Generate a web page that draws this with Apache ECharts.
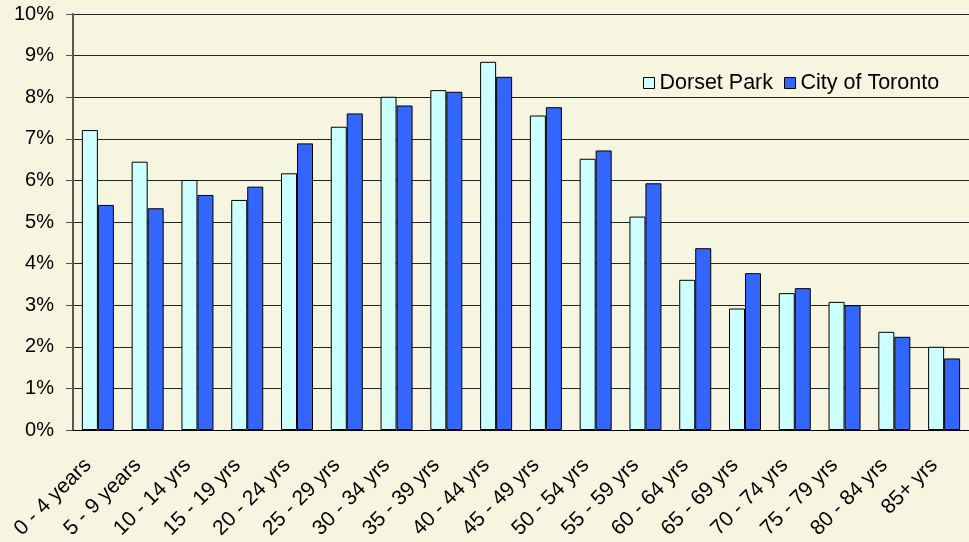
<!DOCTYPE html>
<html>
<head>
<meta charset="utf-8">
<script src="https://cdn.jsdelivr.net/npm/echarts@6/dist/echarts.min.js"></script>
<style>
  html, body { margin: 0; padding: 0; background: #F6F5DF; }
  #chart { width: 969px; height: 542px; }
</style>
</head>
<body>
<div id="chart"></div>
<script>
var ageGroups = ['0 - 4 years', '5 - 9 years', '10 - 14 yrs', '15 - 19 yrs', '20 - 24 yrs',
    '25 - 29 yrs', '30 - 34 yrs', '35 - 39 yrs', '40 - 44 yrs', '45 - 49 yrs', '50 - 54 yrs',
    '55 - 59 yrs', '60 - 64 yrs', '65 - 69 yrs', '70 - 74 yrs', '75 - 79 yrs', '80 - 84 yrs', '85+ yrs'];
var dorsetPark = [7.21, 6.45, 6.01, 5.53, 6.17, 7.29, 8.01, 8.17, 8.85, 7.56, 6.52, 5.13, 3.61, 2.92, 3.29, 3.08, 2.36, 2.00];
var cityToronto = [5.41, 5.33, 5.65, 5.85, 6.89, 7.61, 7.80, 8.13, 8.49, 7.76, 6.72, 5.93, 4.37, 3.77, 3.41, 3.00, 2.24, 1.72];
var pctTicks = [0, 10, 1]; // min, max, step

var chart = echarts.init(document.getElementById('chart'));

var option = {
    backgroundColor: '#F6F5DF',
    animation: false,
    textStyle: { fontFamily: 'Liberation Sans, Arial, sans-serif', color: '#000' },
    legend: {
        left: 638,
        top: 67,
        icon: 'rect',
        itemWidth: 11,
        itemHeight: 11,
        itemGap: 11,
        textStyle: { fontSize: 21.5, color: '#000' },
        itemStyle: { borderColor: '#000', borderWidth: 1 },
        data: ['Dorset Park', 'City of Toronto']
    },
    grid: {
        left: 73,
        right: -9,
        top: 14,
        bottom: 112
    },
    xAxis: {
        type: 'category',
        data: ageGroups,
        axisLine: { lineStyle: { color: '#000', width: 1 } },
        axisTick: { length: 6, lineStyle: { color: '#555', width: 2 }, interval: 0 },
        axisLabel: {
            interval: 0,
            rotate: 45,
            fontSize: 21,
            color: '#000',
            margin: 22,
            padding: [0, 14, 0, 0]
        }
    },
    yAxis: {
        type: 'value',
        min: pctTicks[0],
        max: pctTicks[1],
        interval: pctTicks[2],
        axisLine: { show: true, lineStyle: { color: '#555', width: 2 } },
        axisTick: { show: true, length: 7, lineStyle: { color: '#555', width: 1 } },
        axisLabel: {
            formatter: '{value}%',
            fontSize: 20,
            color: '#000',
            margin: 19
        },
        splitLine: { lineStyle: { color: '#222', width: 1 } }
    },
    series: [{
        name: 'Dorset Park',
        type: 'bar',
        data: dorsetPark,
        barWidth: 16,
        barGap: '0%',
        itemStyle: { color: '#CCFFFF', borderColor: '#000', borderWidth: 1 }
    }, {
        name: 'City of Toronto',
        type: 'bar',
        data: cityToronto,
        barWidth: 16,
        barGap: '0%',
        itemStyle: { color: '#3366FF', borderColor: '#000', borderWidth: 1 }
    }]
};

chart.setOption(option);
</script>
</body>
</html>
